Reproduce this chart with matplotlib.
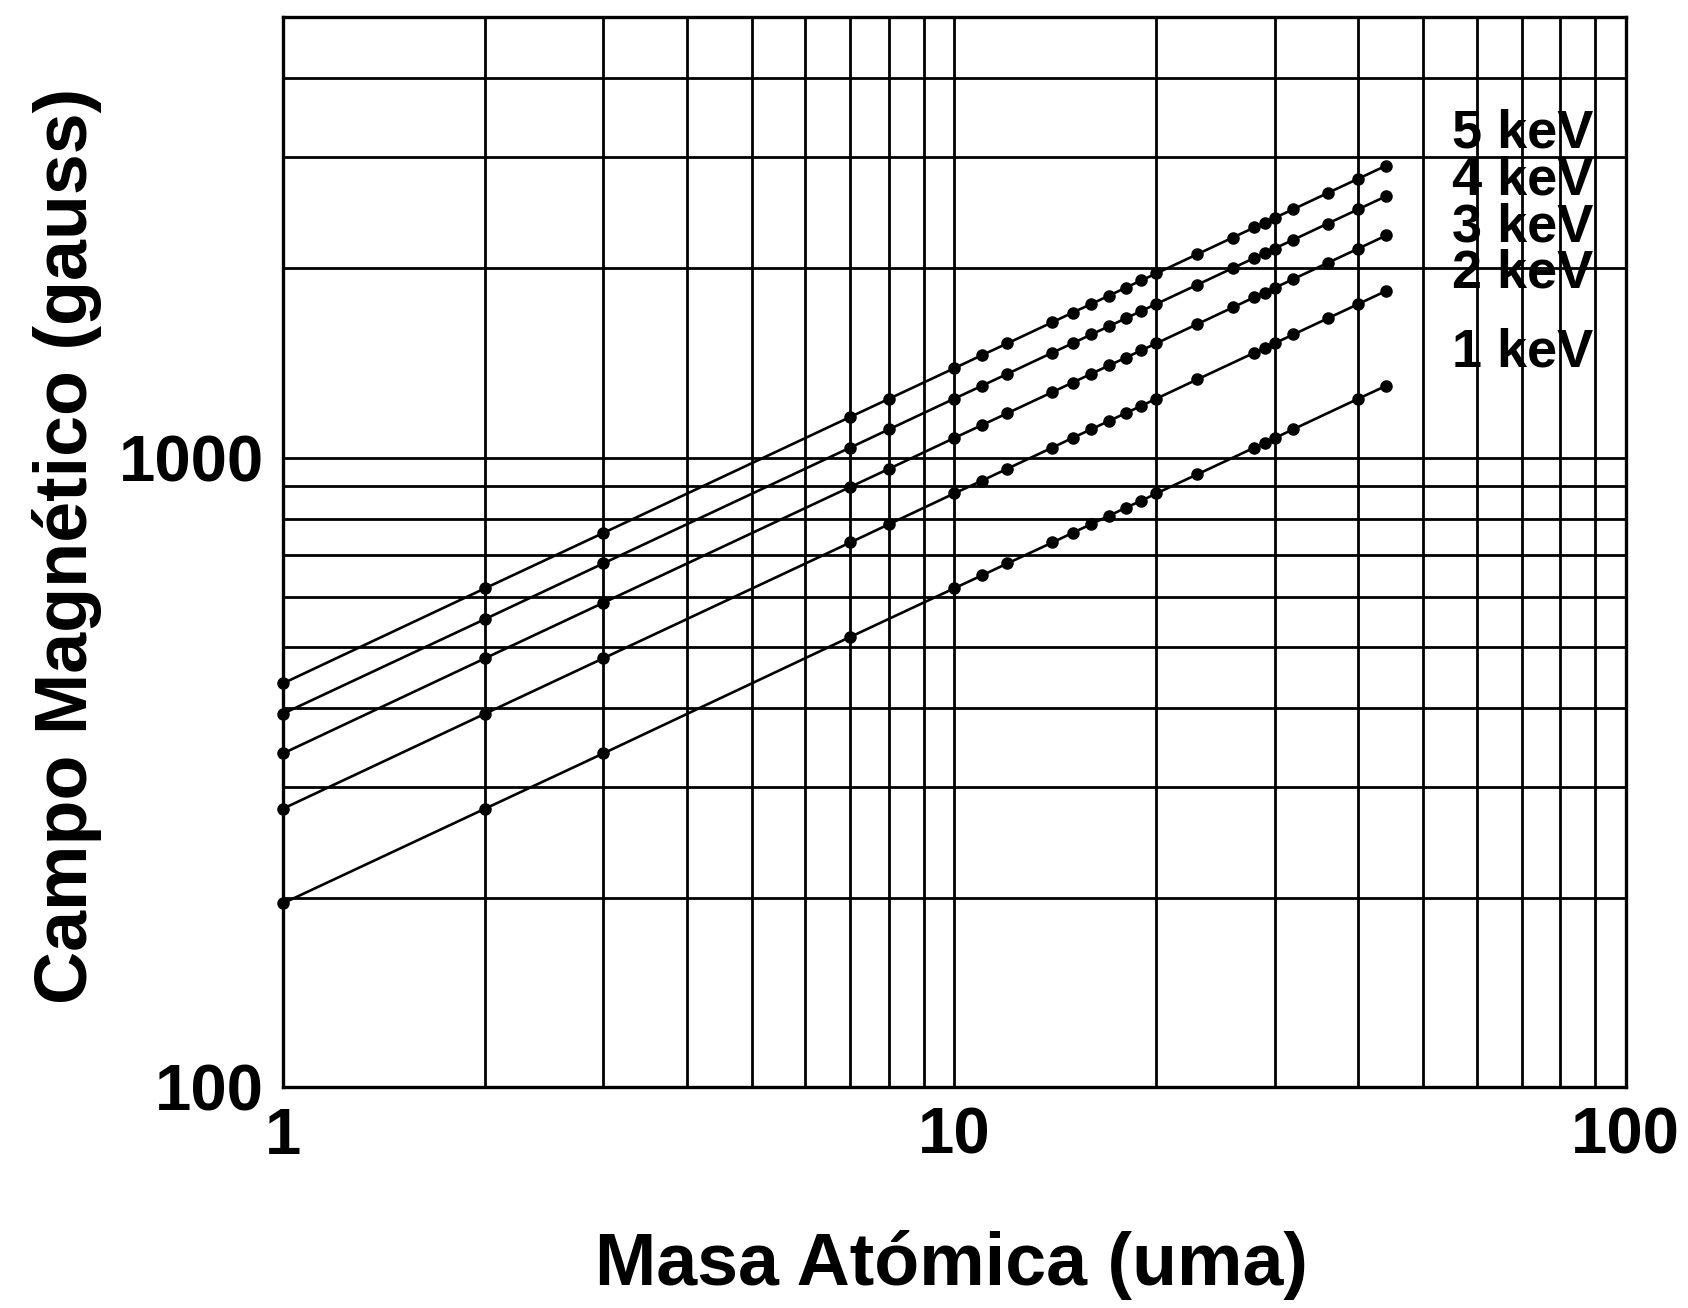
import matplotlib
matplotlib.use("Agg")
import matplotlib.pyplot as plt
from matplotlib.ticker import LogLocator, NullFormatter, FixedLocator, FixedFormatter

plt.rcParams['font.family'] = ['Liberation Sans', 'DejaVu Sans']

# --- data ---
mass_1kev = [1, 2, 3, 7, 10, 11, 12, 14, 15, 16, 17, 18, 19, 20, 23, 28, 29, 30, 32, 40, 44]
field_1kev = [196, 277, 339, 519, 620, 650, 679, 733, 759, 784, 808, 832, 854, 877, 940,
              1037, 1055, 1073, 1109, 1240, 1300]

mass_2kev = [1, 2, 3, 7, 8, 10, 11, 12, 14, 15, 16, 17, 18, 19, 20, 23, 28, 29, 30, 32, 36, 40, 44]
field_2kev = [277, 392, 480, 733, 784, 877, 919, 960, 1037, 1074, 1109, 1143, 1176, 1208, 1240,
              1330, 1467, 1493, 1518, 1568, 1663, 1753, 1839]

mass_345kev = [1, 2, 3, 7, 8, 10, 11, 12, 14, 15, 16, 17, 18, 19, 20, 23, 26, 28, 29, 30, 32, 36, 40, 44]
field_3kev = [339, 480, 588, 898, 960, 1074, 1126, 1176, 1270, 1315, 1358, 1400, 1440, 1480, 1518,
              1628, 1731, 1797, 1828, 1859, 1920, 2037, 2147, 2252]
field_4kev = [392, 554, 679, 1037, 1109, 1240, 1300, 1358, 1467, 1518, 1568, 1616, 1663, 1709, 1753,
              1880, 1999, 2074, 2111, 2147, 2217, 2352, 2479, 2600]
field_5kev = [438, 620, 759, 1160, 1240, 1386, 1454, 1518, 1640, 1698, 1753, 1807, 1860, 1911, 1960,
              2102, 2235, 2319, 2360, 2401, 2479, 2630, 2772, 2907]

series = [
    (mass_1kev, field_1kev),
    (mass_2kev, field_2kev),
    (mass_345kev, field_3kev),
    (mass_345kev, field_4kev),
    (mass_345kev, field_5kev),
]
labels = ["1 keV", "2 keV", "3 keV", "4 keV", "5 keV"]
label_x = [55.2, 55.2, 55.2, 55.2, 55.2]
label_y = [1466, 1963, 2322, 2758, 3273]

x_ticks = [1, 10, 100]
x_ticklabels = ["1", "10", "100"]
y_ticks = [100, 1000]
y_ticklabels = ["100", "1000"]

fig = plt.figure(figsize=(16.88, 13.08), dpi=100)
ax = fig.add_axes([0.1677, 0.1687, 0.7953, 0.8181])
ax.set_xscale('log')
ax.set_yscale('log')
ax.set_xlim(1, 100)
ax.set_ylim(100, 5000)

for (mx, fy) in series:
    ax.plot(mx, fy, color='black', lw=1.9, marker='o', ms=8, mfc='black', mec='black',
            zorder=3, clip_on=False)

for lab, lx, ly in zip(labels, label_x, label_y):
    ax.text(lx, ly, lab, fontsize=39, fontweight='bold', ha='left', va='center',
            color='black', zorder=4)

# grid
ax.xaxis.set_major_locator(FixedLocator(x_ticks))
ax.xaxis.set_major_formatter(FixedFormatter(x_ticklabels))
ax.yaxis.set_major_locator(FixedLocator(y_ticks))
ax.yaxis.set_major_formatter(FixedFormatter(y_ticklabels))
ax.xaxis.set_minor_locator(LogLocator(base=10, subs=range(2, 10)))
ax.yaxis.set_minor_locator(LogLocator(base=10, subs=range(2, 10)))
ax.xaxis.set_minor_formatter(NullFormatter())
ax.yaxis.set_minor_formatter(NullFormatter())
ax.grid(True, which='both', color='black', lw=2.0)
ax.set_axisbelow(True)
ax.tick_params(which='both', length=0)
ax.tick_params(axis='x', labelsize=47, pad=14)
ax.tick_params(axis='y', labelsize=47, pad=14)
for t in ax.get_xticklabels() + ax.get_yticklabels():
    t.set_fontweight('bold')
for s in ax.spines.values():
    s.set_linewidth(2.4)
    s.set_color('black')

fig.text(951 / 1688, 1 - 1265 / 1308, "Masa Atómica (uma)", fontsize=53, fontweight='bold',
         ha='center', va='center')
fig.text(67 / 1688, 1 - 546 / 1308, "Campo Magnético (gauss)", fontsize=53, fontweight='bold',
         ha='center', va='center', rotation=90)

fig.savefig("out.png", dpi=100, facecolor='white')
